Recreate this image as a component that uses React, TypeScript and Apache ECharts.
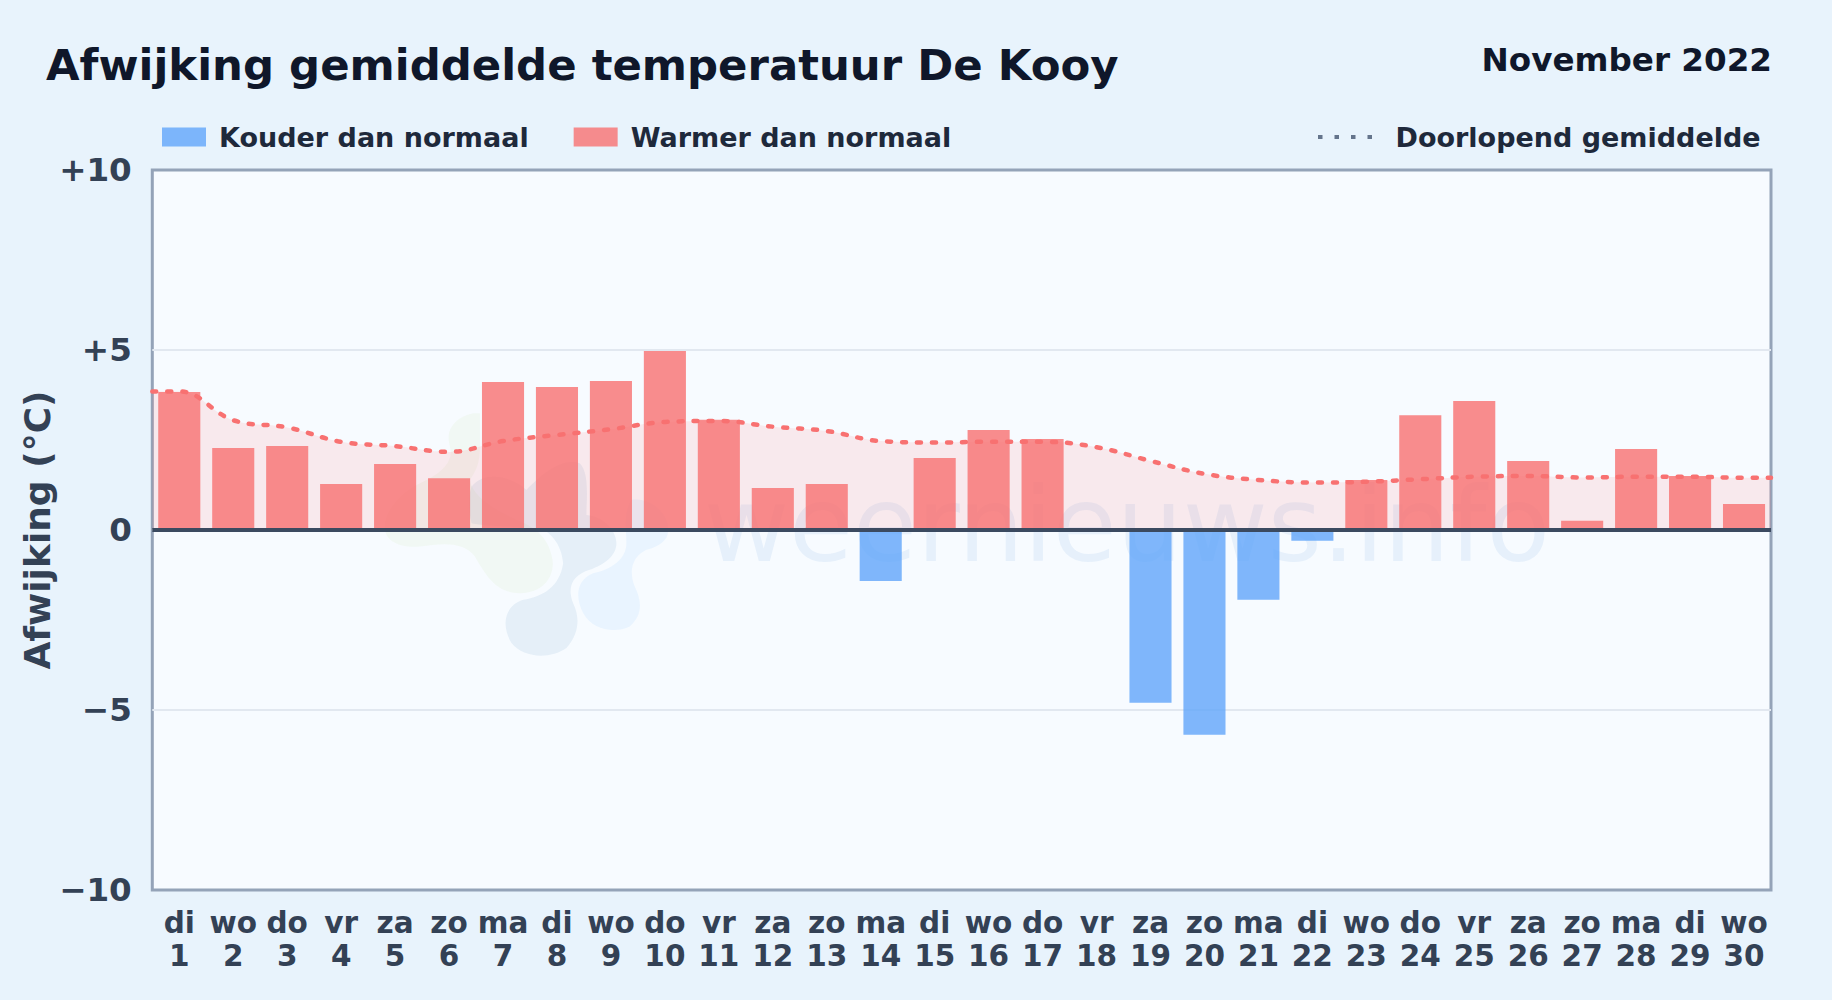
import React, { useEffect, useRef } from "react";
import * as echarts from "echarts";

const weekdays = ["di","wo","do","vr","za","zo","ma","di","wo","do","vr","za","zo","ma","di","wo","do","vr","za","zo","ma","di","wo","do","vr","za","zo","ma","di","wo"];
const dates = ["1","2","3","4","5","6","7","8","9","10","11","12","13","14","15","16","17","18","19","20","21","22","23","24","25","26","27","28","29","30"];
const warmValues = [3.83,2.28,2.33,1.28,1.83,1.44,4.11,3.97,4.14,4.97,3.06,1.17,1.28,null,2.0,2.78,2.53,null,null,null,null,null,1.39,3.19,3.58,1.92,0.26,2.25,1.5,0.72];
const coldValues = [null,null,null,null,null,null,null,null,null,null,null,null,null,-1.42,null,null,null,null,-4.8,-5.69,-1.94,-0.3,null,null,null,null,null,null,null,null];
const runningMean = [3.85,3.05,2.85,2.45,2.33,2.17,2.47,2.64,2.8,3.0,3.03,2.87,2.75,2.47,2.43,2.45,2.45,2.3,1.92,1.56,1.39,1.32,1.34,1.41,1.48,1.5,1.46,1.48,1.48,1.45];
const yTicks: Record<string, string> = { "10": "+10", "5": "+5", "0": "0", "-5": "\u22125", "-10": "\u221210" };

const FONT = "'DejaVu Sans', sans-serif";

const BLOB_GREEN = "M340 40 C285 52 255 90 270 140 C280 175 260 210 200 240 C130 270 70 330 75 390 C80 430 130 445 180 440 C250 430 310 425 345 470 C380 530 410 580 480 580 C550 580 585 530 578 480 C570 420 530 380 470 360 C430 340 340 300 330 240 C350 210 360 190 360 140 L360 40 Z";
const BLOB_DARK = "M335 260 C370 215 450 225 500 270 C530 240 600 170 660 190 C690 220 680 300 680 345 C730 350 770 390 770 430 C770 470 730 495 690 510 C640 525 620 560 640 610 C660 650 660 700 620 745 C570 780 490 775 455 730 C425 680 430 620 490 600 C550 590 600 560 610 490 C605 430 570 400 550 390 C480 380 380 380 335 370 C325 330 325 290 335 260 Z";
const BLOB_LIGHT = "M815 300 C870 290 930 340 925 395 C925 420 900 440 860 450 C820 470 805 510 825 560 C850 610 845 650 810 680 C770 700 700 695 670 640 C645 590 650 540 700 520 C750 510 800 480 800 430 C800 390 790 340 815 300 Z";

export default function App() {
  const ref = useRef<HTMLDivElement>(null);
  useEffect(() => {
    document.body.style.margin = "0";
    document.body.style.background = "#e8f3fc";
    echarts.graphic.registerShape("blobGreen", echarts.graphic.extendPath(BLOB_GREEN, {}));
    echarts.graphic.registerShape("blobDark", echarts.graphic.extendPath(BLOB_DARK, {}));
    echarts.graphic.registerShape("blobLight", echarts.graphic.extendPath(BLOB_LIGHT, {}));
    const chart = echarts.init(ref.current!, undefined, { renderer: "svg" });
    const blob = (type: string, fill: string) => ({ type, x: 360, y: 400, scaleX: 1 / 3, scaleY: 1 / 3, z: 1, silent: true, style: { fill } });
    const meanPoints = [[0.5, runningMean[0]], ...runningMean.map((v, i) => [i + 1, v]), [30.5, runningMean[29]]];
    chart.setOption({
      animation: false,
      backgroundColor: "#e8f3fc",
      textStyle: { fontFamily: FONT },
      title: [
        { text: "Afwijking gemiddelde temperatuur De Kooy", left: 46, top: 43, padding: 0, textStyle: { fontFamily: FONT, fontSize: 43.4, fontWeight: "bold", color: "#0f172a" } },
        { text: "November 2022", right: 60, top: 43, padding: 0, textStyle: { fontFamily: FONT, fontSize: 32.6, fontWeight: "bold", color: "#0f172a" } },
      ],
      legend: [
        { data: ["Kouder dan normaal", "Warmer dan normaal"], icon: "rect", left: 162, top: 123.5, padding: 0, itemWidth: 44, itemHeight: 19, itemGap: 45, textStyle: { fontFamily: FONT, fontSize: 27, fontWeight: "bold", color: "#1e293b", padding: [0, 0, 0, 8] } },
        { data: ["Doorlopend gemiddelde"], left: 1316, top: 123.5, padding: 0, itemWidth: 56, itemHeight: 19, textStyle: { fontFamily: FONT, fontSize: 27, fontWeight: "bold", color: "#1e293b", padding: [0, 0, 0, 16.5] }, itemStyle: { color: "transparent", opacity: 0, borderWidth: 0 }, lineStyle: { color: "#64748b", width: 4, type: [4.5, 12], cap: "butt", opacity: 1 } },
      ],
      grid: { left: 152.3, right: 61, top: 170, bottom: 110, show: true, backgroundColor: "#f7fbff", borderColor: "#94a3b8", borderWidth: 3, containLabel: false, outerBoundsMode: "none" },
      xAxis: [
        {
          type: "category",
          data: dates.map((d, i) => `${weekdays[i]}\n${d}`),
          axisLine: { show: false, onZero: false },
          axisTick: { show: false },
          splitLine: { show: false },
          axisLabel: { interval: 0, fontFamily: FONT, fontSize: 29.5, fontWeight: "bold", color: "#334155", lineHeight: 33, margin: 16 },
        },
        { type: "value", min: 0.5, max: 30.5, show: false },
      ],
      yAxis: {
        type: "value",
        min: -10,
        max: 10,
        interval: 5,
        name: "Afwijking (\u00b0C)",
        nameLocation: "middle",
        nameRotate: 90,
        nameGap: 97,
        nameMoveOverlap: false,
        nameTextStyle: { fontFamily: FONT, fontSize: 36, fontWeight: "bold", color: "#334155" },
        axisLine: { show: false },
        axisTick: { show: false },
        splitLine: { show: true, showMinLine: false, showMaxLine: false, lineStyle: { color: "#e2e8f0", width: 2 } },
        axisLabel: { fontFamily: FONT, fontSize: 32.6, fontWeight: "bold", color: "#334155", margin: 20.5, formatter: (v: number) => yTicks[String(v)] },
      },
      series: [
        {
          name: "Doorlopend gemiddelde vlak",
          type: "line",
          xAxisIndex: 1,
          data: meanPoints,
          smooth: 0.4,
          showSymbol: false,
          symbol: "none",
          lineStyle: { width: 0 },
          areaStyle: { color: "rgba(255,100,100,0.17)" },
          z: 1.5,
        },
        { name: "Kouder dan normaal", type: "bar", data: coldValues, barWidth: "78%", barGap: "-100%", itemStyle: { color: "rgba(96,165,250,0.8)" }, z: 2 },
        { name: "Warmer dan normaal", type: "bar", data: warmValues, barWidth: "78%", barGap: "-100%", itemStyle: { color: "rgba(248,113,113,0.8)" }, z: 2 },
        {
          name: "Doorlopend gemiddelde",
          type: "line",
          xAxisIndex: 1,
          data: meanPoints,
          smooth: 0.4,
          showSymbol: false,
          symbol: "none",
          itemStyle: { color: "#64748b" },
          lineStyle: { color: "#f87171", width: 4.5, type: [4, 11], cap: "round" },
          z: 3,
          markLine: { silent: true, symbol: "none", label: { show: false }, lineStyle: { color: "#3b4a60", width: 4, type: "solid" }, data: [{ yAxis: 0 }] },
        },
      ],
      graphic: {
        elements: [
          blob("blobGreen", "rgba(150,200,60,0.06)"),
          blob("blobDark", "rgba(30,100,170,0.08)"),
          blob("blobLight", "rgba(50,160,255,0.07)"),
          { type: "text", x: 704, y: 473, z: 1, silent: true, style: { text: "weernieuws.info", fontFamily: FONT, fontSize: 104, fill: "#2878c8", opacity: 0.08 } },
        ],
      },
    });
    return () => chart.dispose();
  }, []);
  return <div ref={ref} style={{ width: 1832, height: 1000 }} />;
}
